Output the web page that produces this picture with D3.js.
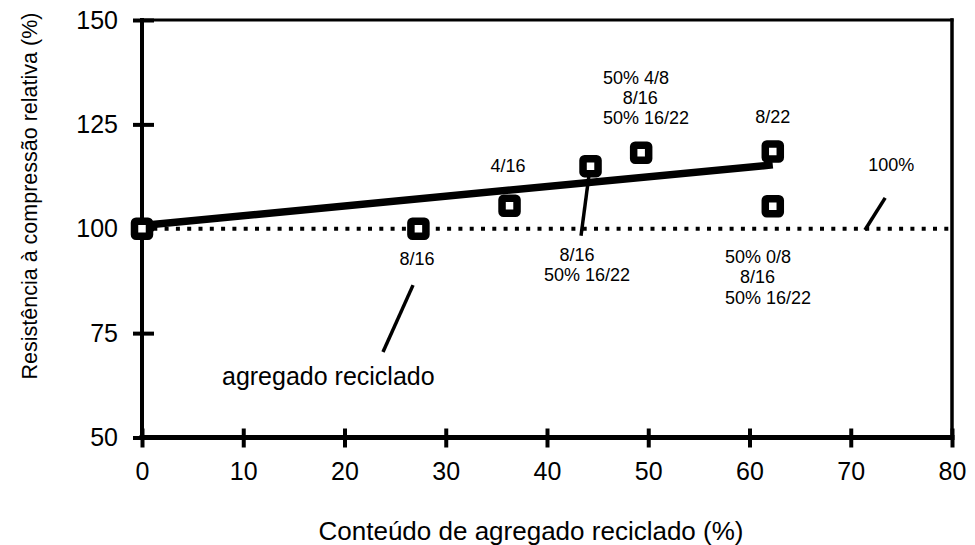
<!DOCTYPE html>
<html>
<head>
<meta charset="utf-8">
<script src="https://cdn.jsdelivr.net/npm/d3@7"></script>
<style>
  html, body { margin: 0; padding: 0; background: #fff; }
  svg { display: block; font-family: "Liberation Sans", Arial, Helvetica, sans-serif; }
</style>
</head>
<body>
<svg id="chart" width="975" height="545"></svg>
<script>
// ---------------- DATA ----------------
const xTicks = [0, 10, 20, 30, 40, 50, 60, 70, 80];
const yTicks = [50, 75, 100, 125, 150];
const recycledContent = [0, 27.3, 36.3, 44.3, 49.3, 62.3, 62.3];      // %
const relativeStrength = [100, 100, 105.5, 115, 118.2, 118.5, 105.4]; // %
const trendX = [0, 62.3];
const trendY = [100.8, 115.3];
const referenceLevel = 100;
const referenceRange = [0, 80];
const xTitle = "Conteúdo de agregado reciclado (%)";
const yTitle = "Resistência à compressão relativa (%)";

// ---------------- LAYOUT ----------------
const svg = d3.select("#chart");
const x = d3.scaleLinear().domain([0, 80]).range([142, 952]);
const y = d3.scaleLinear().domain([50, 150]).range([437.5, 20]);

// annotations (anchor in data coordinates)
const annotations = [
  { x: 36.15, y: 113.6, text: "4/16", anchor: "middle" },
  { x: 45.53, y: 134.7, text: "50% 4/8", anchor: "start" },
  { x: 49.2,  y: 129.9, text: "8/16", anchor: "middle" },
  { x: 45.53, y: 125.1, text: "50% 16/22", anchor: "start" },
  { x: 62.3,  y: 125.3, text: "8/22", anchor: "middle" },
  { x: 27.16, y: 91.3,  text: "8/16", anchor: "middle" },
  { x: 42.96, y: 92.3,  text: "8/16", anchor: "middle" },
  { x: 43.95, y: 87.5,  text: "50% 16/22", anchor: "middle" },
  { x: 57.58, y: 91.9,  text: "50% 0/8", anchor: "start" },
  { x: 60.8,  y: 87.1,  text: "8/16", anchor: "middle" },
  { x: 57.58, y: 82.0,  text: "50% 16/22", anchor: "start" },
  { x: 74.0,  y: 113.8, text: "100%", anchor: "middle" }
];
const leaders = [
  [[26.77, 86.5], [23.8, 70.5]],
  [[44.15, 112.9], [43.36, 98.3]],
  [[73.4, 107.4], [71.4, 99.7]]
];

// reference dotted line (100%)
svg.append("line")
  .attr("x1", x(referenceRange[0])).attr("x2", x(referenceRange[1]))
  .attr("y1", y(referenceLevel)).attr("y2", y(referenceLevel))
  .attr("stroke", "#000").attr("stroke-width", 4)
  .attr("stroke-dasharray", "4 7.3");

// trend line
svg.append("line")
  .attr("x1", x(trendX[0])).attr("y1", y(trendY[0]))
  .attr("x2", x(trendX[1])).attr("y2", y(trendY[1]))
  .attr("stroke", "#000").attr("stroke-width", 7.5);

// axes
const xAxis = d3.axisBottom(x).tickValues(xTicks).tickSize(10).tickPadding(15);
const gx = svg.append("g").attr("transform", `translate(0,${y(50)})`).call(xAxis);
gx.select(".domain").remove();
gx.selectAll(".tick line").attr("y1", -9).attr("stroke", "#000").attr("stroke-width", 4);
gx.selectAll(".tick text").attr("font-size", 25).attr("fill", "#000")
  .attr("font-family", "'Liberation Sans', Arial, sans-serif");

const yAxis = d3.axisLeft(y).tickValues(yTicks).tickSize(9).tickPadding(15);
const gy = svg.append("g").attr("transform", `translate(${x(0)},0)`).call(yAxis);
gy.select(".domain").remove();
gy.selectAll(".tick line").attr("x1", 12).attr("stroke", "#000").attr("stroke-width", 4);
gy.selectAll(".tick text").attr("font-size", 25).attr("fill", "#000")
  .attr("font-family", "'Liberation Sans', Arial, sans-serif");

// frame
const frame = svg.append("g").attr("stroke", "#000").attr("stroke-linecap", "square");
frame.append("line").attr("x1", x(0)).attr("x2", x(80)).attr("y1", y(150)).attr("y2", y(150)).attr("stroke-width", 3);
frame.append("line").attr("x1", x(80)).attr("x2", x(80)).attr("y1", y(150)).attr("y2", y(50)).attr("stroke-width", 3.5);
frame.append("line").attr("x1", x(0)).attr("x2", x(0)).attr("y1", y(150)).attr("y2", y(50)).attr("stroke-width", 4);
frame.append("line").attr("x1", x(0)).attr("x2", x(80)).attr("y1", y(50)).attr("y2", y(50)).attr("stroke-width", 5);

// leaders
svg.append("g").selectAll("line").data(leaders).join("line")
  .attr("x1", d => x(d[0][0])).attr("y1", d => y(d[0][1]))
  .attr("x2", d => x(d[1][0])).attr("y2", d => y(d[1][1]))
  .attr("stroke", "#000").attr("stroke-width", 3.5);

// markers
const pts = recycledContent.map((v, i) => ({ x: v, y: relativeStrength[i] }));
svg.append("g").selectAll("rect").data(pts).join("rect")
  .attr("x", d => x(d.x) - 7.5).attr("y", d => y(d.y) - 7.5)
  .attr("width", 15).attr("height", 15).attr("rx", 1.5)
  .attr("fill", "#fff").attr("stroke", "#000").attr("stroke-width", 7.5);

// annotation text
svg.append("g").selectAll("text").data(annotations).join("text")
  .attr("x", d => x(d.x)).attr("y", d => y(d.y))
  .attr("text-anchor", d => d.anchor)
  .attr("font-size", 18).attr("fill", "#000")
  .text(d => d.text);

svg.append("text")
  .attr("x", x(7.9)).attr("y", y(62.6))
  .attr("font-size", 25).attr("fill", "#000")
  .text("agregado reciclado");

// axis titles
svg.append("text")
  .attr("x", 531).attr("y", 540)
  .attr("text-anchor", "middle").attr("font-size", 26).attr("fill", "#000")
  .text(xTitle);

svg.append("text")
  .attr("transform", "translate(37,196) rotate(-90)")
  .attr("text-anchor", "middle").attr("font-size", 21.5).attr("fill", "#000")
  .text(yTitle);
</script>
</body>
</html>
